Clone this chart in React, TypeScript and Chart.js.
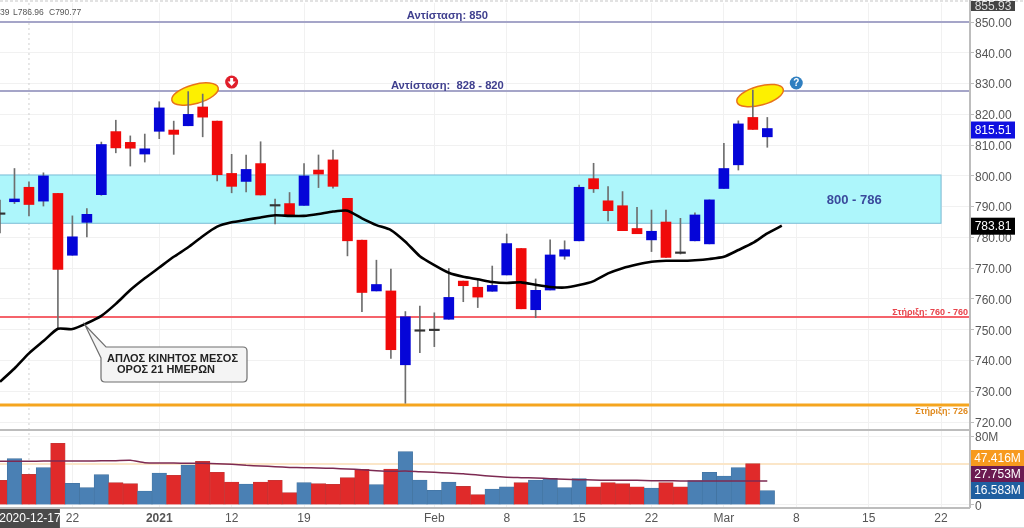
import React, { useEffect, useRef } from "react";
import { Chart, registerables } from "chart.js";

Chart.register(...registerables);

const FONT = '"Liberation Sans", Arial, sans-serif';

// Candles (trading-day index = array position)
const opens = [787.5,791.6,796.3,791.8,794.3,774.2,784.9,793.9,814.4,810.9,807.1,814.5,814.9,816.3,822.4,817.8,800.8,798.2,804,790.2,791,790.4,801.9,805.2,792.7,779.1,762.6,762.6,738.6,749.5,749.7,753.4,765.8,763.8,762.5,767.8,776.4,756.5,762.9,773.9,778.9,799.1,791.9,790.3,782.9,779.2,785,774.8,778.9,777.9,795.9,803.6,819,812.7];
const highs = [792.1,802.4,798.1,801,794.3,787,789.4,811,818.1,813,813.6,824.1,817.8,827.4,826.6,817.8,807,806.8,811.1,792.5,794.6,804,806.8,808.4,792.7,779.1,772.6,769.7,755.9,757.7,755.5,769.9,765.8,766.2,770.7,781.1,776.4,766.5,779.2,778.9,797,804.1,796.5,794.9,789.8,788.9,788.9,786.2,788,792.2,810.6,817.9,827.9,819];
const lows = [781.5,791,787,790.2,750.6,774.2,780.2,793.7,807.5,803.2,804.5,812.1,807,816.3,812.7,798.4,794.5,794.8,793.8,784.4,787.3,790.4,796.2,796,774,755.9,762.6,740.7,726.1,742.5,744.5,753.4,759.1,757.2,762.5,767.8,756.8,753.9,762.9,772.9,778.9,794.6,785.4,782.2,781.2,775.4,773.5,774.6,778.9,777.9,795.9,801.9,815.1,809.3];
const closes = [787.5,792.5,790.7,800,769.6,780.2,787.5,810.2,809.1,809,808.8,822.1,813.5,820,819.1,800.4,796.6,802.1,793.8,790.2,787.3,800,800.6,796.6,778.9,762.1,764.7,743.5,754.2,749.5,749.7,760.5,764.3,760.6,764.4,778,756.8,762.8,774.3,776,796.3,795.8,788.7,782.2,781.2,782,773.5,774.8,787.3,792.2,802.4,816.9,815.1,815.4];

// 21-day simple moving average
const movingAverage = [733.1,737.4,742.3,746.3,750.3,750.2,752.1,754.5,758.4,762.9,766.7,770.2,773.7,776.8,780.4,783.5,784.9,785.7,786.5,787.2,787,787,787.6,788.4,788.7,786.2,784,782.4,778.6,773.9,771,768.5,767.2,766.4,765.5,765.2,765.4,764.6,763.9,763.7,764.5,765.8,768.3,770,771.2,772.1,772.4,772.4,772.6,773,773.7,775.9,778.2,781.3,783.81];

// Volume, in millions
const volumes = [28.6,53.7,35.5,43.3,71.5,25.1,20.1,35.2,25.9,24.8,16.2,37.1,34.4,46.3,50.6,37.9,26.7,24.3,26.7,28.6,14.3,25.9,24.8,24,31.7,41.3,23.6,41.7,61.8,29,17,26.7,21.6,12,18.5,21.2,25.9,29,30.9,20.1,30.5,21.2,25.9,24.8,21.2,19.7,25.9,21.2,28.2,37.9,33.6,43.3,47.9,16.583];
const volumeIsRed = [1,0,1,0,1,0,0,0,1,1,0,0,1,0,1,1,1,0,1,1,1,0,1,1,1,1,0,1,0,0,0,0,1,1,0,0,1,0,0,0,0,1,1,1,1,0,1,1,0,0,0,0,1,0];
const volumeAverage = [50.6,50.7,50.8,50.9,51,51,51.1,51.2,51.4,51.8,49,48.6,48.6,48.4,48.3,47.9,47.2,46,45.2,44.4,43.6,43.3,42.9,42.5,41.7,41,39.8,39,39.4,38.6,37.9,37.1,36.3,34.8,33.2,32.1,31.7,31.3,30.5,29.8,29.4,29,28.6,28.6,28.6,28.2,28.2,27.9,27.9,27.8,27.8,27.8,27.8,27.753];

// Axis ticks
const priceTicks = [720,730,740,750,760,770,780,790,800,810,820,830,840,850];
const volumeTicks = [0, 80];
const dateTickIndex = [5,11,16,21,30,35,40,45,50,55,60,65];
const dateTickLabels = ["22","2021","12","19","Feb","8","15","22","Mar","8","15","22"];
const boldTickIndex = 11;
const cursorIndex = 2;
const cursorDate = "2020-12-17";

// Levels
const resistanceHigh = 850;
const resistanceLow = 827.6;
const zoneTop = 800.3;
const zoneBottom = 784.6;
const zoneEndIndex = 65;
const supportRed = 754.1;
const supportOrange = 725.5;
const volumeLevel = 47.416;

const RED = "#f00a0a";
const BLUE = "#0505d8";
const VOL_RED = "#e02a2a";
const VOL_BLUE = "#4a80b4";

const fitVertical = (s: any) => { s.width = 54; s.paddingTop = 0; s.paddingBottom = 0; };

const annotations: any = {
  id: "annotations",
  beforeDatasetsDraw(chart: any) {
    const { ctx, chartArea: a, scales } = chart;
    const X = (i: number) => scales.x.getPixelForValue(i);
    const Y = (p: number) => scales.y.getPixelForValue(p);
    const hline = (y: number, color: string, w: number) => {
      ctx.strokeStyle = color; ctx.lineWidth = w;
      ctx.beginPath(); ctx.moveTo(a.left, y); ctx.lineTo(a.right, y); ctx.stroke();
    };
    ctx.save();
    // cursor
    ctx.setLineDash([2, 3]);
    ctx.strokeStyle = "#cfcfcf"; ctx.lineWidth = 1;
    ctx.beginPath(); ctx.moveTo(X(cursorIndex), a.top); ctx.lineTo(X(cursorIndex), a.bottom); ctx.stroke();
    ctx.setLineDash([]);
    // zone
    ctx.fillStyle = "#adf6fb";
    const zt = Y(zoneTop), zb = Y(zoneBottom), zr = X(zoneEndIndex);
    ctx.fillRect(a.left, zt, zr - a.left, zb - zt);
    ctx.strokeStyle = "#79bcd6"; ctx.lineWidth = 1;
    ctx.strokeRect(a.left - 2, zt, zr - a.left + 2, zb - zt);
    // levels
    hline(Y(resistanceHigh), "#a5a5c8", 2);
    hline(Y(resistanceLow), "#a5a5c8", 2);
    hline(Y(supportRed), "#f5636b", 2);
    hline(Y(supportOrange), "#f5a51f", 3);
    hline(scales.vol.getPixelForValue(volumeLevel), "#fbe6c8", 2);
    // pane separator
    hline(430, "#bdbdbd", 2);
    // ellipses
    for (const [i, p] of [[13.47, 826.6], [52.5, 826.1]]) {
      ctx.beginPath();
      ctx.ellipse(X(i), Y(p), 24, 9.5, -0.27, 0, Math.PI * 2);
      ctx.fillStyle = "#fdf000"; ctx.fill();
      ctx.strokeStyle = "#e8731a"; ctx.lineWidth = 1.5; ctx.stroke();
    }
    ctx.restore();
  },
  afterDraw(chart: any) {
    const { ctx, chartArea: a, scales, width, height } = chart;
    const X = (i: number) => scales.x.getPixelForValue(i);
    const Y = (p: number) => scales.y.getPixelForValue(p);
    ctx.save();
    ctx.textBaseline = "middle";
    const text = (s: string, x: number, y: number, font: string, color: string, align: any = "left") => {
      ctx.font = font; ctx.fillStyle = color; ctx.textAlign = align; ctx.fillText(s, x, y);
    };
    // frame strips
    ctx.setLineDash([3, 2]); ctx.strokeStyle = "#e2e2e2"; ctx.lineWidth = 2;
    ctx.beginPath(); ctx.moveTo(0, 1); ctx.lineTo(width, 1); ctx.stroke();
    ctx.setLineDash([]); ctx.strokeStyle = "#dedede"; ctx.lineWidth = 1;
    ctx.beginPath(); ctx.moveTo(0, height - 0.5); ctx.lineTo(width, height - 0.5); ctx.stroke();
    ctx.strokeStyle = "#bdbdbd"; ctx.lineWidth = 2;
    ctx.beginPath(); ctx.moveTo(a.left, a.bottom + 1); ctx.lineTo(a.right, a.bottom + 1); ctx.moveTo(a.right, 0); ctx.lineTo(a.right, a.bottom + 1); ctx.stroke();
    // legend fragment
    text("39", 0, 13, `8.5px ${FONT}`, "#555");
    text("L786.96", 13, 13, `8.5px ${FONT}`, "#555");
    text("C790.77", 49, 13, `8.5px ${FONT}`, "#555");
    // level labels
    text("Αντίσταση: 850", X(30.9), Y(resistanceHigh) - 6, `bold 11.2px ${FONT}`, "#40408f", "center");
    text("Αντίσταση:  828 - 820", X(30.9), Y(resistanceLow) - 5, `bold 11.2px ${FONT}`, "#40408f", "center");
    text("800 - 786", X(59), (Y(zoneTop) + Y(zoneBottom)) / 2 + 1, `bold 13px ${FONT}`, "#3a4a9c", "center");
    text("Στήριξη: 760 - 760", a.right - 2, Y(supportRed) - 5, `bold 9px ${FONT}`, "#e8434b", "right");
    text("Στήριξη: 726", a.right - 2, Y(supportOrange) + 6, `bold 9px ${FONT}`, "#e08a1e", "right");
    // flags
    ctx.beginPath(); ctx.arc(X(16), Y(830.5), 6.5, 0, Math.PI * 2); ctx.fillStyle = "#e01f2b"; ctx.fill();
    const fx = X(16), fy = Y(830.5);
    ctx.fillStyle = "#fff";
    ctx.beginPath();
    ctx.moveTo(fx - 1.5, fy - 4); ctx.lineTo(fx + 1.5, fy - 4); ctx.lineTo(fx + 1.5, fy - 0.5);
    ctx.lineTo(fx + 4, fy - 0.5); ctx.lineTo(fx, fy + 4); ctx.lineTo(fx - 4, fy - 0.5); ctx.lineTo(fx - 1.5, fy - 0.5);
    ctx.closePath(); ctx.fill();
    ctx.beginPath(); ctx.arc(X(55), Y(830.2), 6.5, 0, Math.PI * 2); ctx.fillStyle = "#2f7fc0"; ctx.fill();
    text("?", X(55), Y(830.2) + 0.5, `bold 10px ${FONT}`, "#fff", "center");
    // callout
    ctx.beginPath();
    ctx.moveTo(106, 347);
    ctx.lineTo(243, 347); ctx.quadraticCurveTo(247, 347, 247, 351);
    ctx.lineTo(247, 378); ctx.quadraticCurveTo(247, 382, 243, 382);
    ctx.lineTo(105, 382); ctx.quadraticCurveTo(101, 382, 101, 378);
    ctx.lineTo(101, 358); ctx.lineTo(85, 325); ctx.lineTo(106, 347);
    ctx.closePath();
    ctx.fillStyle = "#f4f4f4"; ctx.fill();
    ctx.strokeStyle = "#6f6f6f"; ctx.lineWidth = 1.2; ctx.stroke();
    text("ΑΠΛΟΣ ΚΙΝΗΤΟΣ ΜΕΣΟΣ", 107, 358.5, `bold 11px ${FONT}`, "#222");
    text("ΟΡΟΣ 21 ΗΜΕΡΩΝ", 117, 370, `bold 11px ${FONT}`, "#222");
    // value badges
    const badge = (s: string, x: number, y: number, w: number, h: number, bg: string, fg: string) => {
      ctx.fillStyle = bg; ctx.fillRect(x, y, w, h);
      text(s, x + w / 2, y + h / 2 + 0.5, `12px ${FONT}`, fg, "center");
    };
    const r = a.right + 1;
    badge("855.93", r, 1, 44, 10, "#444", "#ddd");
    badge("815.51", r, Y(closes[53]) - 7, 44, 17, "#1010e0", "#fff");
    badge("783.81", r, Y(movingAverage[54]) - 8, 44, 17, "#000", "#fff");
    badge("47.416M", r, 450, 53, 16, "#f79a1e", "#fff");
    badge("27.753M", r, 466, 53, 16, "#6b1b52", "#fff");
    badge("16.583M", r, 482, 53, 17, "#1f5fa0", "#fff");
    // cursor date
    badge(cursorDate, 0, a.bottom + 2, 2 * X(cursorIndex) + 2, 19, "#4a4a4a", "#fff");
    ctx.restore();
  },
};

export default function App() {
  const ref = useRef<HTMLCanvasElement>(null);
  useEffect(() => {
    const idx = opens.map((_, i) => i);
    const chart = new Chart(ref.current!, {
      type: "bar",
      data: {
        datasets: [
          {
            type: "bar", label: "Range", yAxisID: "y", order: 4, grouped: false,
            data: idx.map((i) => ({ x: i, y: [lows[i], highs[i]] })),
            barThickness: 1, backgroundColor: "#6e6e6e",
          },
          {
            type: "bar", label: "Price", yAxisID: "y", order: 3, grouped: false, minBarLength: 1.5,
            data: idx.map((i) => ({ x: i, y: [opens[i], closes[i]] })),
            barThickness: 10,
            backgroundColor: idx.map((i) => closes[i] > opens[i] ? BLUE : closes[i] < opens[i] ? RED : "#333"),
          },
          {
            type: "line", label: "MA21", yAxisID: "y", order: 1,
            data: movingAverage.map((v, i) => ({ x: i, y: v })),
            borderColor: "#000", borderWidth: 2.6, pointRadius: 0, tension: 0.2,
          },
          {
            type: "bar", label: "Volume", yAxisID: "vol", order: 3, grouped: false,
            data: volumes.map((v, i) => ({ x: i, y: v })),
            barThickness: 14.5,
            backgroundColor: volumeIsRed.map((r) => (r ? VOL_RED : VOL_BLUE)),
            borderColor: volumeIsRed.map((r) => (r ? "#b83a3a" : "#3f6f9c")),
            borderWidth: { left: 0.6, right: 0.6, top: 0.6, bottom: 0 },
          },
          {
            type: "line", label: "Volume MA", yAxisID: "vol", order: 1,
            data: volumeAverage.map((v, i) => ({ x: i, y: v })),
            borderColor: "#7d2a52", borderWidth: 1.5, pointRadius: 0, tension: 0.2,
          },
        ] as any,
      },
      options: {
        responsive: false,
        animation: false,
        events: [],
        layout: { autoPadding: false, padding: { top: 3, left: 0, right: 0, bottom: 0 } },
        plugins: { legend: { display: false }, tooltip: { enabled: false } },
        scales: {
          x: {
            type: "linear", min: 0, max: 67, offset: false,
            afterBuildTicks: (s: any) => { s.ticks = dateTickIndex.map((value) => ({ value })); },
            afterFit: (s: any) => { s.height = 21; s.paddingLeft = 0; s.paddingRight = 0; },
            grid: { color: "#f1f1f1", offset: false, drawTicks: false },
            border: { display: false },
            ticks: {
              autoSkip: false, maxRotation: 0, minRotation: 0, padding: 4, color: "#555",
              font: (c: any) => ({ family: FONT, size: 12, weight: c.tick && c.tick.value === boldTickIndex ? "bold" : "normal" }),
              callback: (v: any) => dateTickLabels[dateTickIndex.indexOf(v)] ?? "",
            },
          },
          y: {
            type: "linear", position: "right", stack: "panes", stackWeight: 427,
            min: 717.4, max: 856.2,
            afterBuildTicks: (s: any) => { s.ticks = priceTicks.map((value) => ({ value })); },
            afterFit: fitVertical,
            grid: { color: "#f1f1f1", tickColor: "#bdbdbd", tickLength: 4 },
            border: { display: false },
            ticks: {
              autoSkip: false, padding: 1, color: "#555", font: { family: FONT, size: 12, lineHeight: 0.25 },
              callback: (v: any) => ["", Number(v).toFixed(2)],
            },
          },
          vol: {
            type: "linear", position: "right", stack: "panes", stackWeight: 77,
            min: -2.32, max: 86.96,
            afterBuildTicks: (s: any) => { s.ticks = volumeTicks.map((value) => ({ value })); },
            afterFit: fitVertical,
            grid: { color: "#f1f1f1", tickColor: "#bdbdbd", tickLength: 4 },
            border: { display: false },
            ticks: {
              autoSkip: false, padding: 1, color: "#555", font: { family: FONT, size: 12, lineHeight: 0.25 },
              callback: (v: any) => ["", v === 0 ? "0" : `${v}M`],
            },
          },
        },
      } as any,
      plugins: [annotations],
    });
    return () => chart.destroy();
  }, []);
  return (
    <div style={{ position: "absolute", left: 0, top: 0, width: 1024, height: 528, background: "#fff" }}>
      <canvas ref={ref} width={1024} height={528} style={{ display: "block" }} />
    </div>
  );
}
